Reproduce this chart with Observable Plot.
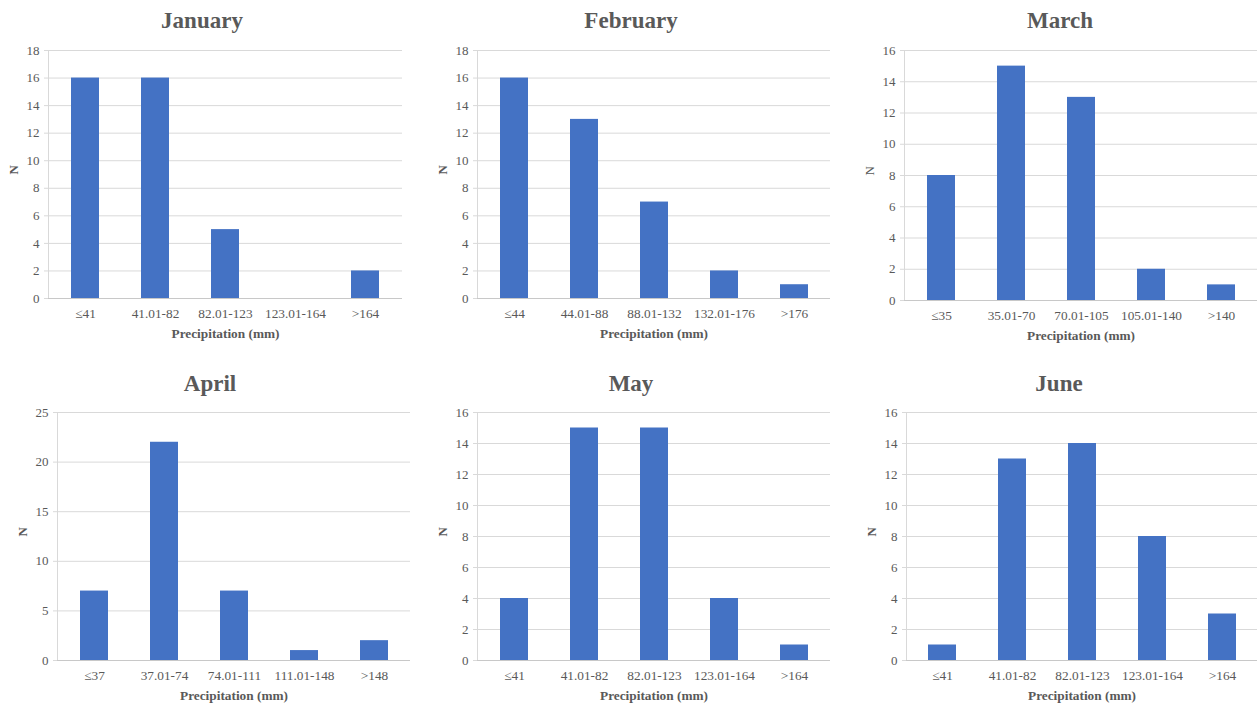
<!DOCTYPE html>
<html>
<head>
<meta charset="utf-8">
<script src="https://cdn.jsdelivr.net/npm/d3@7"></script>
<script src="https://cdn.jsdelivr.net/npm/@observablehq/plot@0.6"></script>
<style>
  html, body { margin: 0; padding: 0; background: #fff; }
  #root { position: relative; width: 1257px; height: 705px; overflow: hidden; font-family: "Liberation Serif", "Times New Roman", serif; }
  .title { position: absolute; font-weight: bold; font-size: 23px; color: #595959; transform: translateX(-50%); white-space: nowrap; line-height: 1; }
  .panel { position: absolute; }
  .panel svg, .panel svg text { font-family: "Liberation Serif", "Times New Roman", serif !important; }
</style>
</head>
<body>
<div id="root"></div>
<script>
// ---- Data ----
const months = ["January", "February", "March", "April", "May", "June"];

const janCats = ["≤41", "41.01-82", "82.01-123", "123.01-164", ">164"];
const janN = [16, 16, 5, 0, 2];

const febCats = ["≤44", "44.01-88", "88.01-132", "132.01-176", ">176"];
const febN = [16, 13, 7, 2, 1];

const marCats = ["≤35", "35.01-70", "70.01-105", "105.01-140", ">140"];
const marN = [8, 15, 13, 2, 1];

const aprCats = ["≤37", "37.01-74", "74.01-111", "111.01-148", ">148"];
const aprN = [7, 22, 7, 1, 2];

const mayCats = ["≤41", "41.01-82", "82.01-123", "123.01-164", ">164"];
const mayN = [4, 15, 15, 4, 1];

const junCats = ["≤41", "41.01-82", "82.01-123", "123.01-164", ">164"];
const junN = [1, 13, 14, 8, 3];

const yTicks18 = [0, 2, 4, 6, 8, 10, 12, 14, 16, 18];
const yTicks16 = [0, 2, 4, 6, 8, 10, 12, 14, 16];
const yTicks25 = [0, 5, 10, 15, 20, 25];

const xLabel = "Precipitation (mm)";
const yLabel = "N";

// ---- Layout (positions only) ----
const panels = [
  {cats: janCats, n: janN, ticks: yTicks18, left: 0,   axisX: 48,  right: 402,  top: 50,  bottom: 298, titleX: 202,  titleBase: 28},
  {cats: febCats, n: febN, ticks: yTicks18, left: 420, axisX: 477, right: 830,  top: 50,  bottom: 298, titleX: 631,  titleBase: 28},
  {cats: marCats, n: marN, ticks: yTicks16, left: 838, axisX: 904, right: 1257, top: 50,  bottom: 300, titleX: 1060, titleBase: 28},
  {cats: aprCats, n: aprN, ticks: yTicks25, left: 0,   axisX: 57,  right: 410,  top: 412, bottom: 660, titleX: 210,  titleBase: 391},
  {cats: mayCats, n: mayN, ticks: yTicks16, left: 420, axisX: 477, right: 830,  top: 412, bottom: 660, titleX: 631,  titleBase: 391},
  {cats: junCats, n: junN, ticks: yTicks16, left: 838, axisX: 906, right: 1257, top: 412, bottom: 660, titleX: 1059, titleBase: 391}
];

const root = document.getElementById("root");
const textColor = "#595959";

panels.forEach((p, i) => {
  const data = p.cats.map((c, j) => ({cat: c, n: p.n[j]}));
  const svgTop = p.top - 15;
  const svgHeight = (p.bottom - p.top) + 15 + 50;
  const svgWidth = p.right - p.left + (p.right >= 1257 ? 0 : 8);
  const chart = Plot.plot({
    width: svgWidth,
    height: svgHeight,
    marginLeft: p.axisX - p.left,
    marginRight: svgWidth - (p.right - p.left),
    marginTop: 15,
    marginBottom: 50,
    style: "font-family: 'Liberation Serif', 'Times New Roman', serif; font-size: 13px; color: #595959; background: #fff; overflow: visible;",
    x: {domain: p.cats, paddingInner: 0.6, paddingOuter: 0.3},
    y: {domain: [0, p.ticks[p.ticks.length - 1]], ticks: p.ticks},
    marks: [
      Plot.gridY(p.ticks, {stroke: "#d9d9d9", strokeOpacity: 1}),
      Plot.axisY(p.ticks, {tickSize: 4, tickPadding: 5, stroke: "#d9d9d9", fill: textColor, fontSize: 13, label: null}),
      Plot.axisX({tickSize: 0, tickPadding: 10, fill: textColor, fontSize: 13.3, label: null}),
      Plot.frame({anchor: "left", stroke: "#d9d9d9"}),
      Plot.barY(data, {x: "cat", y: "n", fill: "#4472C4"}),
      Plot.ruleY([0], {stroke: "#c8c8c8"}),
      Plot.text([xLabel], {frameAnchor: "bottom", dy: 39, fontWeight: "bold", fill: textColor, fontSize: 13.3}),
      Plot.text([yLabel], {frameAnchor: "left", dx: -35, rotate: -90, fontWeight: i === 2 ? "normal" : "bold", fill: textColor, fontSize: 13})
    ]
  });
  const wrap = document.createElement("div");
  wrap.className = "panel";
  wrap.style.left = p.left + "px";
  wrap.style.top = svgTop + "px";
  wrap.appendChild(chart);
  root.appendChild(wrap);

  const t = document.createElement("div");
  t.className = "title";
  t.textContent = months[i];
  t.style.left = p.titleX + "px";
  t.style.top = (p.titleBase - 19) + "px";
  root.appendChild(t);
});
</script>
</body>
</html>
